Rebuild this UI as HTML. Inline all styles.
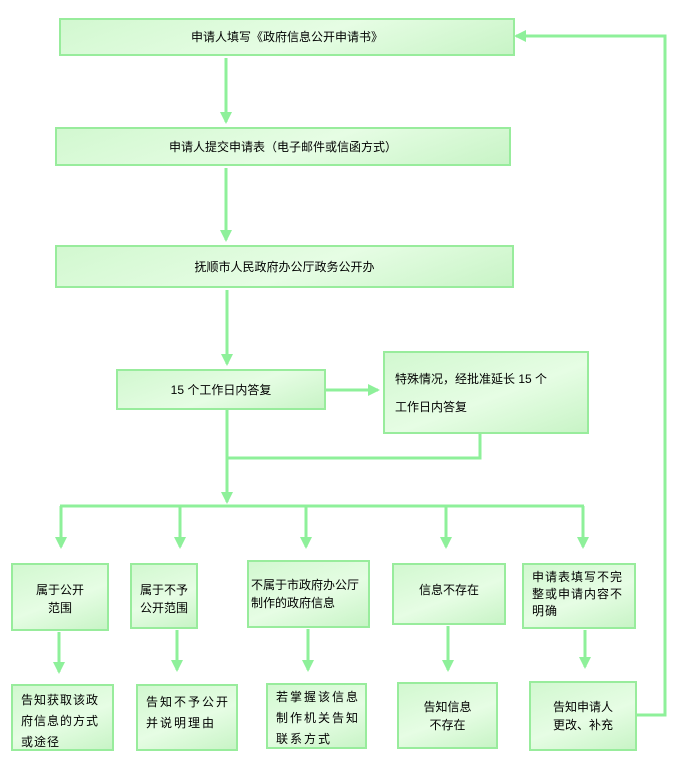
<!DOCTYPE html>
<html><head><meta charset="utf-8"><style>
body{margin:0;width:677px;height:778px;background:#fff;position:relative;overflow:hidden;font-family:"Liberation Sans","Noto Sans CJK SC",sans-serif;font-size:12px;color:#000}
.b{position:absolute;box-sizing:border-box;border:2px solid #98ec9c;background:linear-gradient(160deg,#d2f8d0 0%,#e6fde4 55%,#c8f4c6 100%);display:flex;align-items:center;justify-content:center;text-align:center;line-height:18px}
.l{justify-content:flex-start;text-align:left;padding-left:4px}
svg{position:absolute;left:0;top:0}
</style></head><body>
<svg width="677" height="778">
<defs><marker id="a" markerWidth="8" markerHeight="8" refX="6" refY="4" orient="auto" markerUnits="userSpaceOnUse"><path d="M0,0 L8,4 L0,8z" fill="#8ef09a"/></marker>
<marker id="m" markerWidth="12" markerHeight="12" refX="10" refY="6" orient="auto" markerUnits="userSpaceOnUse"><path d="M0,0 L12,6 L0,12z" fill="#8ef09a"/></marker></defs>
<g stroke="#8ef09a" stroke-width="3" fill="none">
<line x1="226" y1="58" x2="226" y2="122" marker-end="url(#m)"/>
<line x1="226" y1="168" x2="226" y2="240" marker-end="url(#m)"/>
<line x1="227" y1="290" x2="227" y2="364" marker-end="url(#m)"/>
<line x1="326" y1="390" x2="378" y2="390" marker-end="url(#m)"/>
<polyline points="227,410 227,458 480,458 480,434"/>
<line x1="227" y1="458" x2="227" y2="502" marker-end="url(#m)"/>
<line x1="60" y1="506" x2="584" y2="506"/>
<line x1="61" y1="506" x2="61" y2="547" marker-end="url(#m)"/>
<line x1="180" y1="506" x2="180" y2="547" marker-end="url(#m)"/>
<line x1="306" y1="506" x2="306" y2="547" marker-end="url(#m)"/>
<line x1="446" y1="506" x2="446" y2="547" marker-end="url(#m)"/>
<line x1="583" y1="506" x2="583" y2="547" marker-end="url(#m)"/>
<line x1="59" y1="632" x2="59" y2="672" marker-end="url(#m)"/>
<line x1="177" y1="630" x2="177" y2="670" marker-end="url(#m)"/>
<line x1="308" y1="629" x2="308" y2="670" marker-end="url(#m)"/>
<line x1="448" y1="626" x2="448" y2="670" marker-end="url(#m)"/>
<line x1="585" y1="630" x2="585" y2="667" marker-end="url(#m)"/>
<polyline points="636,715 665,715 665,36 516,36" marker-end="url(#m)"/>
</g></svg>
<div class="b" style="left:59px;top:18px;width:456px;height:38px">申请人填写《政府信息公开申请书》</div>
<div class="b" style="left:55px;top:127px;width:456px;height:39px">申请人提交申请表（电子邮件或信函方式）</div>
<div class="b" style="left:55px;top:245px;width:459px;height:43px">抚顺市人民政府办公厅政务公开办</div>
<div class="b" style="left:116px;top:369px;width:210px;height:41px">15 个工作日内答复</div>
<div class="b l" style="left:383px;top:351px;width:206px;height:83px;flex-direction:column;align-items:flex-start;justify-content:flex-start;padding-top:12px;line-height:28px;padding-left:10px">特殊情况，经批准延长 15 个<br>工作日内答复</div>
<div class="b" style="left:11px;top:563px;width:98px;height:68px;align-items:flex-start;padding-top:16px">属于公开<br>范围</div>
<div class="b" style="left:130px;top:563px;width:68px;height:66px;align-items:flex-start;padding-top:16px">属于不予<br>公开范围</div>
<div class="b l" style="left:247px;top:560px;width:123px;height:68px;align-items:flex-start;padding-top:14px;padding-left:2px">不属于市政府办公厅<br>制作的政府信息</div>
<div class="b" style="left:392px;top:563px;width:114px;height:62px;align-items:flex-start;padding-top:16px">信息不存在</div>
<div class="b l" style="left:522px;top:563px;width:114px;height:66px;align-items:flex-start;padding-top:4px;padding-left:8px;letter-spacing:1px;line-height:17px">申请表填写不完<br>整或申请内容不<br>明确</div>
<div class="b l" style="left:11px;top:684px;width:103px;height:67px;align-items:flex-start;padding-top:4px;padding-left:8px;line-height:21px;letter-spacing:1px">告知获取该政<br>府信息的方式<br>或途径</div>
<div class="b l" style="left:136px;top:684px;width:102px;height:67px;align-items:flex-start;padding-top:6px;padding-left:8px;line-height:21px;letter-spacing:2px">告知不予公开<br>并说明理由</div>
<div class="b l" style="left:266px;top:683px;width:101px;height:66px;align-items:flex-start;padding-top:2px;padding-left:8px;line-height:21px;letter-spacing:2px">若掌握该信息<br>制作机关告知<br>联系方式</div>
<div class="b" style="left:397px;top:682px;width:101px;height:67px">告知信息<br>不存在</div>
<div class="b" style="left:529px;top:681px;width:108px;height:70px">告知申请人<br>更改、补充</div>
</body></html>
